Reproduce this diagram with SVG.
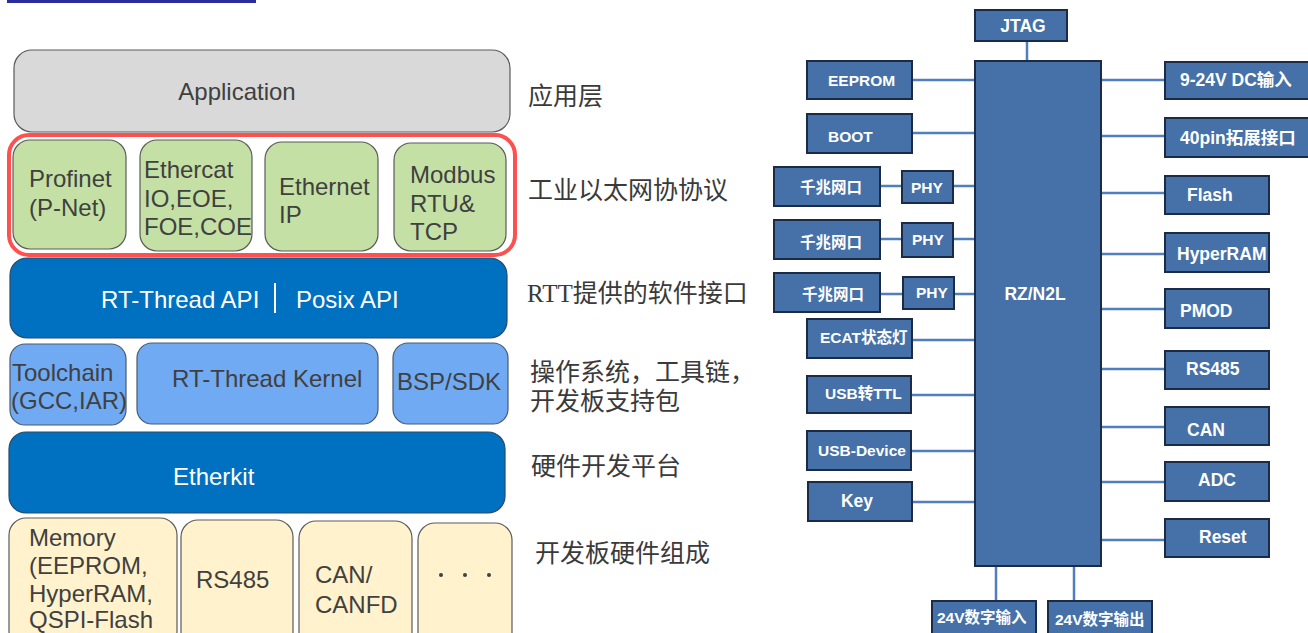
<svg xmlns="http://www.w3.org/2000/svg" width="1308" height="633" viewBox="0 0 1308 633">
<style>
.lt{font-family:"Liberation Sans",Arial,sans-serif;font-size:24px;fill:#404040}
.wt{font-family:"Liberation Sans",Arial,sans-serif;font-size:24px;fill:#ffffff}
.cn{font-family:"Liberation Serif","Noto Sans CJK SC",serif;font-size:25px;fill:#3a3a3a}
.gray{fill:#d9d9d9;stroke:#5a5a5a;stroke-width:1.2}
.green{fill:#c5e0a5;stroke:#5a5a5a;stroke-width:1.2}
.blue{fill:#0070c0;stroke:#2a4a6a;stroke-width:1.2}
.lblue{fill:#70aaf2;stroke:#4a5a70;stroke-width:1.2}
.yel{fill:#fff2cc;stroke:#5a5a5a;stroke-width:1.2}
.bx{fill:#4571a8;stroke:#1b2b45;stroke-width:2}
.bt{font-family:"Liberation Sans",Arial,"Noto Sans CJK SC",sans-serif;font-weight:bold;fill:#ffffff;font-size:15.5px}
.bt2{font-family:"Liberation Sans",Arial,"Noto Sans CJK SC",sans-serif;font-weight:bold;fill:#ffffff;font-size:17.5px}
.ln{stroke:#4f7fbf;stroke-width:2.5;fill:none}
</style>
<rect x="7" y="0" width="249" height="3" fill="#2b2d9a"/>

<g id="application"><rect class="gray" x="14" y="50" width="496" height="82" rx="18"/><text class="lt" x="237" y="100" text-anchor="middle">Application</text></g>
<g id="protocol-frame"><rect x="9" y="135" width="506" height="120" rx="20" fill="none" stroke="#ff5050" stroke-width="4"/></g>
<g id="profinet"><rect class="green" x="13" y="140" width="113" height="109" rx="17"/><text class="lt" x="29" y="187">Profinet</text><text class="lt" x="29" y="216">(P-Net)</text></g>
<g id="ethercat"><rect class="green" x="140" y="140" width="112" height="111" rx="17"/><text class="lt" x="144" y="178">Ethercat</text><text class="lt" x="144" y="207">IO,EOE,</text><text class="lt" x="144" y="235">FOE,COE</text></g>
<g id="ethernet-ip"><rect class="green" x="265" y="142" width="113" height="109" rx="17"/><text class="lt" x="279" y="195">Ethernet</text><text class="lt" x="279" y="223">IP</text></g>
<g id="modbus"><rect class="green" x="394" y="143" width="112" height="108" rx="17"/><text class="lt" x="410" y="183">Modbus</text><text class="lt" x="410" y="212">RTU&amp;</text><text class="lt" x="410" y="240">TCP</text></g>

<g id="api"><rect class="blue" x="10" y="258" width="497" height="80" rx="17"/><text class="wt" x="101" y="308">RT-Thread API</text><line x1="275" y1="283" x2="275" y2="313" stroke="#ffffff" stroke-width="2"/><text class="wt" x="296" y="308">Posix API</text></g>
<g id="toolchain"><rect class="lblue" x="10" y="344" width="116" height="81" rx="15"/><text class="lt" x="12" y="381">Toolchain</text><text class="lt" x="11" y="409">(GCC,IAR)</text></g>
<g id="kernel"><rect class="lblue" x="137" y="343" width="241" height="81" rx="15"/><text class="lt" x="172" y="387">RT-Thread Kernel</text></g>
<g id="bsp"><rect class="lblue" x="393" y="343" width="115" height="81" rx="15"/><text class="lt" x="397" y="390">BSP/SDK</text></g>
<g id="etherkit"><rect class="blue" x="9" y="432" width="496" height="81" rx="17"/><text class="wt" x="173" y="485">Etherkit</text></g>
<g id="memory"><rect class="yel" x="9" y="518" width="168" height="130" rx="17"/><text class="lt" x="29" y="546">Memory</text><text class="lt" x="29" y="574">(EEPROM,</text><text class="lt" x="29" y="602">HyperRAM,</text><text class="lt" x="29" y="628">QSPI-Flash</text></g>
<g id="rs485-hw"><rect class="yel" x="181" y="520" width="112" height="130" rx="17"/><text class="lt" x="196" y="588">RS485</text></g>
<g id="can-hw"><rect class="yel" x="299" y="521" width="113" height="130" rx="17"/><text class="lt" x="315" y="583">CAN/</text><text class="lt" x="315" y="613">CANFD</text></g>
<g id="more-hw"><rect class="yel" x="418" y="523" width="94" height="130" rx="17"/><circle cx="441" cy="575" r="2" fill="#404040"/><circle cx="465" cy="575" r="2" fill="#404040"/><circle cx="489" cy="575" r="2" fill="#404040"/></g>

<g id="layer-labels">
<text class="cn" x="528" y="105">应用层</text>
<text class="cn" x="528" y="199">工业以太网协协议</text>
<text class="cn" x="527" y="302">RTT提供的软件接口</text>
<text class="cn" x="530" y="381">操作系统，工具链，</text>
<text class="cn" x="530" y="410">开发板支持包</text>
<text class="cn" x="531" y="475">硬件开发平台</text>
<text class="cn" x="535" y="562">开发板硬件组成</text>
</g>

<g id="connectors">
<line class="ln" x1="1027" y1="41" x2="1027" y2="61"/>
<line class="ln" x1="912" y1="80" x2="975" y2="80"/>
<line class="ln" x1="912" y1="133" x2="975" y2="133"/>
<line class="ln" x1="880" y1="186" x2="902" y2="186"/>
<line class="ln" x1="953" y1="186" x2="975" y2="186"/>
<line class="ln" x1="880" y1="239" x2="902" y2="239"/>
<line class="ln" x1="953" y1="239" x2="975" y2="239"/>
<line class="ln" x1="880" y1="294" x2="903" y2="294"/>
<line class="ln" x1="954" y1="294" x2="975" y2="294"/>
<line class="ln" x1="912" y1="340" x2="975" y2="340"/>
<line class="ln" x1="911" y1="395" x2="975" y2="395"/>
<line class="ln" x1="911" y1="451" x2="975" y2="451"/>
<line class="ln" x1="912" y1="502" x2="975" y2="502"/>
<line class="ln" x1="1101" y1="80" x2="1165" y2="80"/>
<line class="ln" x1="1101" y1="136" x2="1165" y2="136"/>
<line class="ln" x1="1101" y1="193" x2="1165" y2="193"/>
<line class="ln" x1="1101" y1="254" x2="1165" y2="254"/>
<line class="ln" x1="1101" y1="309" x2="1165" y2="309"/>
<line class="ln" x1="1101" y1="369" x2="1165" y2="369"/>
<line class="ln" x1="1101" y1="427" x2="1165" y2="427"/>
<line class="ln" x1="1101" y1="482" x2="1165" y2="482"/>
<line class="ln" x1="1101" y1="540" x2="1165" y2="540"/>
<line class="ln" x1="996" y1="566" x2="996" y2="601"/>
<line class="ln" x1="1074" y1="566" x2="1074" y2="601"/>
</g>

<g id="jtag"><rect class="bx" x="975" y="10" width="92" height="31"/><text class="bt2" x="1023" y="32" text-anchor="middle">JTAG</text></g>
<g id="rzn2l"><rect class="bx" x="975" y="61" width="126" height="505"/><text class="bt2" x="1035" y="300" text-anchor="middle">RZ/N2L</text></g>
<g id="eeprom"><rect class="bx" x="807" y="61" width="105" height="38"/><text class="bt" x="828" y="86">EEPROM</text></g>
<g id="boot"><rect class="bx" x="807" y="114" width="105" height="39"/><text class="bt" x="828" y="142">BOOT</text></g>
<g id="eth1"><rect class="bx" x="774" y="167" width="106" height="39"/><text class="bt" x="800" y="193">千兆网口</text></g>
<g id="phy1"><rect class="bx" x="902" y="171" width="51" height="32"/><text class="bt" x="911" y="193">PHY</text></g>
<g id="eth2"><rect class="bx" x="774" y="220" width="106" height="39"/><text class="bt" x="800" y="248">千兆网口</text></g>
<g id="phy2"><rect class="bx" x="902" y="223" width="51" height="34"/><text class="bt" x="912" y="245">PHY</text></g>
<g id="eth3"><rect class="bx" x="774" y="273" width="106" height="39"/><text class="bt" x="802" y="300">千兆网口</text></g>
<g id="phy3"><rect class="bx" x="903" y="277" width="51" height="32"/><text class="bt" x="916" y="298">PHY</text></g>
<g id="ecat"><rect class="bx" x="807" y="319" width="105" height="39"/><text class="bt" x="820" y="343">ECAT状态灯</text></g>
<g id="usbttl"><rect class="bx" x="807" y="376" width="104" height="37"/><text class="bt" x="825" y="399">USB转TTL</text></g>
<g id="usbdev"><rect class="bx" x="807" y="431" width="104" height="39"/><text class="bt" x="818" y="456">USB-Device</text></g>
<g id="key"><rect class="bx" x="808" y="482" width="104" height="39"/><text class="bt2" x="857" y="507" text-anchor="middle">Key</text></g>
<g id="dcin"><rect class="bx" x="1165" y="62" width="150" height="37"/><text class="bt2" x="1180" y="86">9-24V DC输入</text></g>
<g id="pin40"><rect class="bx" x="1165" y="118" width="150" height="39"/><text class="bt2" x="1180" y="144">40pin拓展接口</text></g>
<g id="flash"><rect class="bx" x="1165" y="176" width="104" height="38"/><text class="bt2" x="1187" y="201">Flash</text></g>
<g id="hyperram"><rect class="bx" x="1165" y="233" width="104" height="39"/><text class="bt2" x="1177" y="260">HyperRAM</text></g>
<g id="pmod"><rect class="bx" x="1165" y="289" width="104" height="39"/><text class="bt2" x="1180" y="317">PMOD</text></g>
<g id="rs485"><rect class="bx" x="1165" y="351" width="104" height="38"/><text class="bt2" x="1186" y="375">RS485</text></g>
<g id="can"><rect class="bx" x="1165" y="407" width="104" height="38"/><text class="bt2" x="1187" y="436">CAN</text></g>
<g id="adc"><rect class="bx" x="1165" y="462" width="104" height="39"/><text class="bt2" x="1198" y="486">ADC</text></g>
<g id="reset"><rect class="bx" x="1165" y="519" width="104" height="38"/><text class="bt2" x="1199" y="543">Reset</text></g>
<g id="din"><rect class="bx" x="932" y="601" width="104" height="45"/><text class="bt" x="937" y="623">24V数字输入</text></g>
<g id="dout"><rect class="bx" x="1048" y="601" width="104" height="45"/><text class="bt" x="1055" y="625">24V数字输出</text></g>
</svg>
